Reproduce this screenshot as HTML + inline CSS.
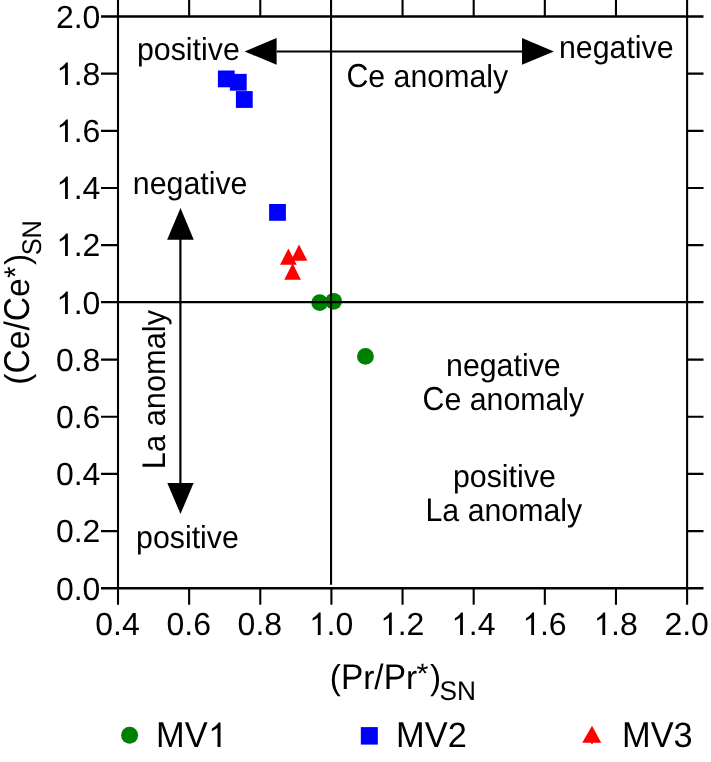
<!DOCTYPE html><html><head><meta charset="utf-8"><title>Ce/Ce* vs Pr/Pr*</title><style>html,body{margin:0;padding:0;background:#fff;}svg{display:block;will-change:transform;}text{font-family:"Liberation Sans",sans-serif;fill:#000;text-rendering:geometricPrecision;}</style></head><body>
<svg width="711" height="762" viewBox="0 0 711 762">
<rect x="0" y="0" width="711" height="762" fill="#fff"/>
<rect x="217.9" y="70.5" width="16.8" height="16.8" fill="#0000ff"/>
<rect x="229.9" y="73.9" width="16.8" height="16.8" fill="#0000ff"/>
<rect x="235.9" y="91.1" width="16.8" height="16.8" fill="#0000ff"/>
<rect x="269.1" y="204" width="16.8" height="16.8" fill="#0000ff"/>
<polygon points="288.4,248.4 296.7,264.8 280.1,264.8" fill="#ff0000"/>
<polygon points="299.05,244.45 307.35,260.85 290.75,260.85" fill="#ff0000"/>
<polygon points="292.6,263.3 300.9,279.7 284.3,279.7" fill="#ff0000"/>
<circle cx="319.7" cy="302.6" r="8.4" fill="#008000"/>
<circle cx="333.65" cy="301.3" r="8.4" fill="#008000"/>
<circle cx="365.45" cy="356.4" r="8.4" fill="#008000"/>
<path d="M101,16.45H703.5M101,588.3H703.5" stroke="#000" stroke-width="2.4" fill="none"/>
<path d="M101,531.115H118M687.1,531.115H703.5M101,473.93H118M687.1,473.93H703.5M101,416.745H118M687.1,416.745H703.5M101,359.56H118M687.1,359.56H703.5M101,245.19H118M687.1,245.19H703.5M101,188.005H118M687.1,188.005H703.5M101,130.82H118M687.1,130.82H703.5M101,73.635H118M687.1,73.635H703.5M101,302.1H703.5" stroke="#000" stroke-width="2.15" fill="none"/>
<path d="M118,0V604.7M687.1,0V604.7M331.05,0V584.7M331.412,588.3V604.7M189.138,0V16.45M189.138,588.3V604.7M260.275,0V16.45M260.275,588.3V604.7M402.55,0V16.45M402.55,588.3V604.7M473.687,0V16.45M473.687,588.3V604.7M544.825,0V16.45M544.825,588.3V604.7M615.963,0V16.45M615.963,588.3V604.7" stroke="#000" stroke-width="2.1" fill="none"/>
<text transform="translate(55.936,600) translate(0,0) scale(1,1)" font-size="32">0</text>
<text transform="translate(55.936,600) translate(17.797,0) scale(1,1)" font-size="32">.</text>
<text transform="translate(55.936,600) translate(26.688,0) scale(1,1)" font-size="32">0</text>
<text transform="translate(55.936,542) translate(0,0) scale(1,1)" font-size="32">0</text>
<text transform="translate(55.936,542) translate(17.797,0) scale(1,1)" font-size="32">.</text>
<text transform="translate(55.936,542) translate(26.688,0) scale(1,1)" font-size="32">2</text>
<text transform="translate(55.936,485) translate(0,0) scale(1,1)" font-size="32">0</text>
<text transform="translate(55.936,485) translate(17.797,0) scale(1,1)" font-size="32">.</text>
<text transform="translate(55.936,485) translate(26.688,0) scale(1,1)" font-size="32">4</text>
<text transform="translate(55.936,428) translate(0,0) scale(1,1)" font-size="32">0</text>
<text transform="translate(55.936,428) translate(17.797,0) scale(1,1)" font-size="32">.</text>
<text transform="translate(55.936,428) translate(26.688,0) scale(1,1)" font-size="32">6</text>
<text transform="translate(55.936,371) translate(0,0) scale(1,1)" font-size="32">0</text>
<text transform="translate(55.936,371) translate(17.797,0) scale(1,1)" font-size="32">.</text>
<text transform="translate(55.936,371) translate(26.688,0) scale(1,1)" font-size="32">8</text>
<path transform="translate(55.936,314) translate(0,0)" d="M11.922,0L9.109,0L9.109,-17.526Q8.094,-16.578 6.438,-15.631Q5,-14.775 3.875,-14.256L3.875,-16.808Q5.938,-17.847 7.609,-19.405Q9.359,-20.964 10.094,-22.4L11.922,-22.4Z" fill="#000"/>
<text transform="translate(55.936,314) translate(17.797,0) scale(1,1)" font-size="32">.</text>
<text transform="translate(55.936,314) translate(26.688,0) scale(1,1)" font-size="32">0</text>
<path transform="translate(55.936,256) translate(0,0)" d="M11.922,0L9.109,0L9.109,-17.526Q8.094,-16.578 6.438,-15.631Q5,-14.775 3.875,-14.256L3.875,-16.808Q5.938,-17.847 7.609,-19.405Q9.359,-20.964 10.094,-22.4L11.922,-22.4Z" fill="#000"/>
<text transform="translate(55.936,256) translate(17.797,0) scale(1,1)" font-size="32">.</text>
<text transform="translate(55.936,256) translate(26.688,0) scale(1,1)" font-size="32">2</text>
<path transform="translate(55.936,199) translate(0,0)" d="M11.922,0L9.109,0L9.109,-17.526Q8.094,-16.578 6.438,-15.631Q5,-14.775 3.875,-14.256L3.875,-16.808Q5.938,-17.847 7.609,-19.405Q9.359,-20.964 10.094,-22.4L11.922,-22.4Z" fill="#000"/>
<text transform="translate(55.936,199) translate(17.797,0) scale(1,1)" font-size="32">.</text>
<text transform="translate(55.936,199) translate(26.688,0) scale(1,1)" font-size="32">4</text>
<path transform="translate(55.936,142) translate(0,0)" d="M11.922,0L9.109,0L9.109,-17.526Q8.094,-16.578 6.438,-15.631Q5,-14.775 3.875,-14.256L3.875,-16.808Q5.938,-17.847 7.609,-19.405Q9.359,-20.964 10.094,-22.4L11.922,-22.4Z" fill="#000"/>
<text transform="translate(55.936,142) translate(17.797,0) scale(1,1)" font-size="32">.</text>
<text transform="translate(55.936,142) translate(26.688,0) scale(1,1)" font-size="32">6</text>
<path transform="translate(55.936,85) translate(0,0)" d="M11.922,0L9.109,0L9.109,-17.526Q8.094,-16.578 6.438,-15.631Q5,-14.775 3.875,-14.256L3.875,-16.808Q5.938,-17.847 7.609,-19.405Q9.359,-20.964 10.094,-22.4L11.922,-22.4Z" fill="#000"/>
<text transform="translate(55.936,85) translate(17.797,0) scale(1,1)" font-size="32">.</text>
<text transform="translate(55.936,85) translate(26.688,0) scale(1,1)" font-size="32">8</text>
<text transform="translate(55.936,28) translate(0,0) scale(1,1)" font-size="32">2</text>
<text transform="translate(55.936,28) translate(17.797,0) scale(1,1)" font-size="32">.</text>
<text transform="translate(55.936,28) translate(26.688,0) scale(1,1)" font-size="32">0</text>
<text transform="translate(95.308,635) translate(0,0) scale(1,1)" font-size="32">0</text>
<text transform="translate(95.308,635) translate(17.797,0) scale(1,1)" font-size="32">.</text>
<text transform="translate(95.308,635) translate(26.688,0) scale(1,1)" font-size="32">4</text>
<text transform="translate(166.445,635) translate(0,0) scale(1,1)" font-size="32">0</text>
<text transform="translate(166.445,635) translate(17.797,0) scale(1,1)" font-size="32">.</text>
<text transform="translate(166.445,635) translate(26.688,0) scale(1,1)" font-size="32">6</text>
<text transform="translate(237.583,635) translate(0,0) scale(1,1)" font-size="32">0</text>
<text transform="translate(237.583,635) translate(17.797,0) scale(1,1)" font-size="32">.</text>
<text transform="translate(237.583,635) translate(26.688,0) scale(1,1)" font-size="32">8</text>
<path transform="translate(308.72,635) translate(0,0)" d="M11.922,0L9.109,0L9.109,-17.526Q8.094,-16.578 6.438,-15.631Q5,-14.775 3.875,-14.256L3.875,-16.808Q5.938,-17.847 7.609,-19.405Q9.359,-20.964 10.094,-22.4L11.922,-22.4Z" fill="#000"/>
<text transform="translate(308.72,635) translate(17.797,0) scale(1,1)" font-size="32">.</text>
<text transform="translate(308.72,635) translate(26.688,0) scale(1,1)" font-size="32">0</text>
<path transform="translate(379.858,635) translate(0,0)" d="M11.922,0L9.109,0L9.109,-17.526Q8.094,-16.578 6.438,-15.631Q5,-14.775 3.875,-14.256L3.875,-16.808Q5.938,-17.847 7.609,-19.405Q9.359,-20.964 10.094,-22.4L11.922,-22.4Z" fill="#000"/>
<text transform="translate(379.858,635) translate(17.797,0) scale(1,1)" font-size="32">.</text>
<text transform="translate(379.858,635) translate(26.688,0) scale(1,1)" font-size="32">2</text>
<path transform="translate(450.995,635) translate(0,0)" d="M11.922,0L9.109,0L9.109,-17.526Q8.094,-16.578 6.438,-15.631Q5,-14.775 3.875,-14.256L3.875,-16.808Q5.938,-17.847 7.609,-19.405Q9.359,-20.964 10.094,-22.4L11.922,-22.4Z" fill="#000"/>
<text transform="translate(450.995,635) translate(17.797,0) scale(1,1)" font-size="32">.</text>
<text transform="translate(450.995,635) translate(26.688,0) scale(1,1)" font-size="32">4</text>
<path transform="translate(522.133,635) translate(0,0)" d="M11.922,0L9.109,0L9.109,-17.526Q8.094,-16.578 6.438,-15.631Q5,-14.775 3.875,-14.256L3.875,-16.808Q5.938,-17.847 7.609,-19.405Q9.359,-20.964 10.094,-22.4L11.922,-22.4Z" fill="#000"/>
<text transform="translate(522.133,635) translate(17.797,0) scale(1,1)" font-size="32">.</text>
<text transform="translate(522.133,635) translate(26.688,0) scale(1,1)" font-size="32">6</text>
<path transform="translate(593.27,635) translate(0,0)" d="M11.922,0L9.109,0L9.109,-17.526Q8.094,-16.578 6.438,-15.631Q5,-14.775 3.875,-14.256L3.875,-16.808Q5.938,-17.847 7.609,-19.405Q9.359,-20.964 10.094,-22.4L11.922,-22.4Z" fill="#000"/>
<text transform="translate(593.27,635) translate(17.797,0) scale(1,1)" font-size="32">.</text>
<text transform="translate(593.27,635) translate(26.688,0) scale(1,1)" font-size="32">8</text>
<text transform="translate(664.408,635) translate(0,0) scale(1,1)" font-size="32">2</text>
<text transform="translate(664.408,635) translate(17.797,0) scale(1,1)" font-size="32">.</text>
<text transform="translate(664.408,635) translate(26.688,0) scale(1,1)" font-size="32">0</text>
<text transform="translate(329.84,689) translate(0,0) scale(1,1.03)" font-size="33.4">(</text>
<text transform="translate(329.84,689) translate(11.122,0) scale(1,1.07)" font-size="33.4">P</text>
<text transform="translate(329.84,689) translate(33.4,0) scale(1,1.013)" font-size="33.4">r</text>
<text transform="translate(329.84,689) translate(44.522,0) scale(1,1.056)" font-size="33.4">/</text>
<text transform="translate(329.84,689) translate(53.802,0) scale(1,1.07)" font-size="33.4">P</text>
<text transform="translate(329.84,689) translate(76.08,0) scale(1,1.013)" font-size="33.4">r</text>
<text transform="translate(329.84,689) translate(86.692,-5.55) scale(0.921,0.84)" font-size="33.4">*</text>
<text transform="translate(329.84,689) translate(100.2,0) scale(1,1.03)" font-size="33.4">)</text>
<text transform="translate(439.54,700) translate(0,0) scale(1.01,1.04)" font-size="26">S</text>
<text transform="translate(439.54,700) translate(17.515,0) scale(1.01,1.04)" font-size="26">N</text>
<text transform="translate(29.4,384.67) rotate(-90) translate(0,0) scale(1.007,1.03)" font-size="33.4">(</text>
<text transform="translate(29.4,384.67) rotate(-90) translate(11.196,0) scale(1.007,1.074)" font-size="33.4">C</text>
<text transform="translate(29.4,384.67) rotate(-90) translate(35.475,0) scale(1.007,1.02)" font-size="33.4">e</text>
<text transform="translate(29.4,384.67) rotate(-90) translate(54.174,0) scale(1.007,1.056)" font-size="33.4">/</text>
<text transform="translate(29.4,384.67) rotate(-90) translate(63.514,0) scale(1.007,1.074)" font-size="33.4">C</text>
<text transform="translate(29.4,384.67) rotate(-90) translate(87.794,0) scale(1.007,1.02)" font-size="33.4">e</text>
<text transform="translate(29.4,384.67) rotate(-90) translate(106.582,-3.84) scale(0.892,0.938)" font-size="33.4">*</text>
<text transform="translate(29.4,384.67) rotate(-90) translate(119.576,0) scale(1.007,1.03)" font-size="33.4">)</text>
<text transform="translate(41.2,255.32) rotate(-90) translate(0,0) scale(0.976,1.04)" font-size="26">S</text>
<text transform="translate(41.2,255.32) rotate(-90) translate(16.926,0) scale(0.976,1.04)" font-size="26">N</text>
<path d="M276.6,51.5H522" stroke="#000" stroke-width="1.9" fill="none"/>
<polygon points="244.64,51.45 276.6,38.02 276.6,64.75" fill="#000"/>
<polygon points="553.9,51.45 522,38.02 522,64.75" fill="#000"/>
<path d="M180.4,239H180.4V483.5" stroke="#000" stroke-width="2.2" fill="none"/>
<polygon points="180.5,208.07 193.76,239.66 167.13,239.66" fill="#000"/>
<polygon points="180.5,514 193.6,482.9 167.3,482.9" fill="#000"/>
<text transform="translate(137.01,60) translate(0,0) scale(1,1.045)" font-size="30.3">p</text>
<text transform="translate(137.01,60) translate(16.851,0) scale(1,1.045)" font-size="30.3">o</text>
<text transform="translate(137.01,60) translate(33.703,0) scale(1,1.045)" font-size="30.3">s</text>
<text transform="translate(137.01,60) translate(48.853,0) scale(1,1.045)" font-size="30.3">i</text>
<text transform="translate(137.01,60) translate(55.585,0) scale(1,1.045)" font-size="30.3">t</text>
<text transform="translate(137.01,60) translate(64.003,0) scale(1,1.045)" font-size="30.3">i</text>
<text transform="translate(137.01,60) translate(70.735,0) scale(1,1.045)" font-size="30.3">v</text>
<text transform="translate(137.01,60) translate(85.885,0) scale(1,1.045)" font-size="30.3">e</text>
<text transform="translate(558.97,58) translate(0,0) scale(1,1.045)" font-size="30.3">n</text>
<text transform="translate(558.97,58) translate(16.851,0) scale(1,1.045)" font-size="30.3">e</text>
<text transform="translate(558.97,58) translate(33.703,0) scale(1,1.045)" font-size="30.3">g</text>
<text transform="translate(558.97,58) translate(50.554,0) scale(1,1.045)" font-size="30.3">a</text>
<text transform="translate(558.97,58) translate(67.406,0) scale(1,1.045)" font-size="30.3">t</text>
<text transform="translate(558.97,58) translate(75.824,0) scale(1,1.045)" font-size="30.3">i</text>
<text transform="translate(558.97,58) translate(82.556,0) scale(1,1.045)" font-size="30.3">v</text>
<text transform="translate(558.97,58) translate(97.706,0) scale(1,1.045)" font-size="30.3">e</text>
<text transform="translate(346.44,87) translate(0,0) scale(1,1.095)" font-size="30.3">C</text>
<text transform="translate(346.44,87) translate(21.882,0) scale(1,1.045)" font-size="30.3">e</text>
<text transform="translate(346.44,87) translate(47.151,0) scale(1,1.045)" font-size="30.3">a</text>
<text transform="translate(346.44,87) translate(64.003,0) scale(1,1.045)" font-size="30.3">n</text>
<text transform="translate(346.44,87) translate(80.854,0) scale(1,1.045)" font-size="30.3">o</text>
<text transform="translate(346.44,87) translate(97.706,0) scale(1,1.045)" font-size="30.3">m</text>
<text transform="translate(346.44,87) translate(122.946,0) scale(1,1.045)" font-size="30.3">a</text>
<text transform="translate(346.44,87) translate(139.797,0) scale(1,1.045)" font-size="30.3">l</text>
<text transform="translate(346.44,87) translate(146.529,0) scale(1,1.045)" font-size="30.3">y</text>
<text transform="translate(132.87,194) translate(0,0) scale(1,1.045)" font-size="30.3">n</text>
<text transform="translate(132.87,194) translate(16.851,0) scale(1,1.045)" font-size="30.3">e</text>
<text transform="translate(132.87,194) translate(33.703,0) scale(1,1.045)" font-size="30.3">g</text>
<text transform="translate(132.87,194) translate(50.554,0) scale(1,1.045)" font-size="30.3">a</text>
<text transform="translate(132.87,194) translate(67.406,0) scale(1,1.045)" font-size="30.3">t</text>
<text transform="translate(132.87,194) translate(75.824,0) scale(1,1.045)" font-size="30.3">i</text>
<text transform="translate(132.87,194) translate(82.556,0) scale(1,1.045)" font-size="30.3">v</text>
<text transform="translate(132.87,194) translate(97.706,0) scale(1,1.045)" font-size="30.3">e</text>
<text transform="translate(136.11,548) translate(0,0) scale(1,1.045)" font-size="30.3">p</text>
<text transform="translate(136.11,548) translate(16.851,0) scale(1,1.045)" font-size="30.3">o</text>
<text transform="translate(136.11,548) translate(33.703,0) scale(1,1.045)" font-size="30.3">s</text>
<text transform="translate(136.11,548) translate(48.853,0) scale(1,1.045)" font-size="30.3">i</text>
<text transform="translate(136.11,548) translate(55.585,0) scale(1,1.045)" font-size="30.3">t</text>
<text transform="translate(136.11,548) translate(64.003,0) scale(1,1.045)" font-size="30.3">i</text>
<text transform="translate(136.11,548) translate(70.735,0) scale(1,1.045)" font-size="30.3">v</text>
<text transform="translate(136.11,548) translate(85.885,0) scale(1,1.045)" font-size="30.3">e</text>
<text transform="translate(446.07,376) translate(0,0) scale(1,1.045)" font-size="30.3">n</text>
<text transform="translate(446.07,376) translate(16.851,0) scale(1,1.045)" font-size="30.3">e</text>
<text transform="translate(446.07,376) translate(33.703,0) scale(1,1.045)" font-size="30.3">g</text>
<text transform="translate(446.07,376) translate(50.554,0) scale(1,1.045)" font-size="30.3">a</text>
<text transform="translate(446.07,376) translate(67.406,0) scale(1,1.045)" font-size="30.3">t</text>
<text transform="translate(446.07,376) translate(75.824,0) scale(1,1.045)" font-size="30.3">i</text>
<text transform="translate(446.07,376) translate(82.556,0) scale(1,1.045)" font-size="30.3">v</text>
<text transform="translate(446.07,376) translate(97.706,0) scale(1,1.045)" font-size="30.3">e</text>
<text transform="translate(422.54,410) translate(0,0) scale(1,1.095)" font-size="30.3">C</text>
<text transform="translate(422.54,410) translate(21.882,0) scale(1,1.045)" font-size="30.3">e</text>
<text transform="translate(422.54,410) translate(47.151,0) scale(1,1.045)" font-size="30.3">a</text>
<text transform="translate(422.54,410) translate(64.003,0) scale(1,1.045)" font-size="30.3">n</text>
<text transform="translate(422.54,410) translate(80.854,0) scale(1,1.045)" font-size="30.3">o</text>
<text transform="translate(422.54,410) translate(97.706,0) scale(1,1.045)" font-size="30.3">m</text>
<text transform="translate(422.54,410) translate(122.946,0) scale(1,1.045)" font-size="30.3">a</text>
<text transform="translate(422.54,410) translate(139.797,0) scale(1,1.045)" font-size="30.3">l</text>
<text transform="translate(422.54,410) translate(146.529,0) scale(1,1.045)" font-size="30.3">y</text>
<text transform="translate(453.01,487) translate(0,0) scale(1,1.045)" font-size="30.3">p</text>
<text transform="translate(453.01,487) translate(16.851,0) scale(1,1.045)" font-size="30.3">o</text>
<text transform="translate(453.01,487) translate(33.703,0) scale(1,1.045)" font-size="30.3">s</text>
<text transform="translate(453.01,487) translate(48.853,0) scale(1,1.045)" font-size="30.3">i</text>
<text transform="translate(453.01,487) translate(55.585,0) scale(1,1.045)" font-size="30.3">t</text>
<text transform="translate(453.01,487) translate(64.003,0) scale(1,1.045)" font-size="30.3">i</text>
<text transform="translate(453.01,487) translate(70.735,0) scale(1,1.045)" font-size="30.3">v</text>
<text transform="translate(453.01,487) translate(85.885,0) scale(1,1.045)" font-size="30.3">e</text>
<text transform="translate(425.51,521) translate(0,0) scale(1,1.08)" font-size="30.3">L</text>
<text transform="translate(425.51,521) translate(16.851,0) scale(1,1.045)" font-size="30.3">a</text>
<text transform="translate(425.51,521) translate(42.121,0) scale(1,1.045)" font-size="30.3">a</text>
<text transform="translate(425.51,521) translate(58.973,0) scale(1,1.045)" font-size="30.3">n</text>
<text transform="translate(425.51,521) translate(75.824,0) scale(1,1.045)" font-size="30.3">o</text>
<text transform="translate(425.51,521) translate(92.675,0) scale(1,1.045)" font-size="30.3">m</text>
<text transform="translate(425.51,521) translate(117.916,0) scale(1,1.045)" font-size="30.3">a</text>
<text transform="translate(425.51,521) translate(134.767,0) scale(1,1.045)" font-size="30.3">l</text>
<text transform="translate(425.51,521) translate(141.499,0) scale(1,1.045)" font-size="30.3">y</text>
<text transform="translate(165,469.13) rotate(-90) translate(0,0) scale(1.016,1.08)" font-size="30.3">L</text>
<text transform="translate(165,469.13) rotate(-90) translate(17.121,0) scale(1.016,1.045)" font-size="30.3">a</text>
<text transform="translate(165,469.13) rotate(-90) translate(42.795,0) scale(1.016,1.045)" font-size="30.3">a</text>
<text transform="translate(165,469.13) rotate(-90) translate(59.916,0) scale(1.016,1.045)" font-size="30.3">n</text>
<text transform="translate(165,469.13) rotate(-90) translate(77.037,0) scale(1.016,1.045)" font-size="30.3">o</text>
<text transform="translate(165,469.13) rotate(-90) translate(94.158,0) scale(1.016,1.045)" font-size="30.3">m</text>
<text transform="translate(165,469.13) rotate(-90) translate(119.802,0) scale(1.016,1.045)" font-size="30.3">a</text>
<text transform="translate(165,469.13) rotate(-90) translate(136.923,0) scale(1.016,1.045)" font-size="30.3">l</text>
<text transform="translate(165,469.13) rotate(-90) translate(143.763,0) scale(1.016,1.045)" font-size="30.3">y</text>
<circle cx="129.6" cy="735.2" r="8.5" fill="#008000"/>
<rect x="360.83" y="727.1" width="17" height="17.5" fill="#0000ff"/>
<polygon points="592,725.65 601.24,742.66 582.25,742.66" fill="#ff0000"/>
<rect x="591.1" y="742" width="1.8" height="1.8" fill="#ff0000"/>
<text transform="translate(156.1,747) translate(0,0) scale(1,1.048)" font-size="34.4">M</text>
<text transform="translate(156.1,747) translate(28.655,0) scale(1,1.048)" font-size="34.4">V</text>
<path transform="translate(156.1,747) translate(51.6,0)" d="M12.816,0L9.793,0L9.793,-19.247Q8.701,-18.207 6.92,-17.166Q5.375,-16.227 4.166,-15.656L4.166,-18.458Q6.383,-19.599 8.18,-21.311Q10.061,-23.023 10.851,-24.6L12.816,-24.6Z" fill="#000"/>
<text transform="translate(396.1,747) translate(0,0) scale(1,1.048)" font-size="34.4">M</text>
<text transform="translate(396.1,747) translate(28.655,0) scale(1,1.048)" font-size="34.4">V</text>
<text transform="translate(396.1,747) translate(51.6,0) scale(1,1.02)" font-size="34.4">2</text>
<text transform="translate(622,747) translate(0,0) scale(1,1.048)" font-size="34.4">M</text>
<text transform="translate(622,747) translate(28.655,0) scale(1,1.048)" font-size="34.4">V</text>
<text transform="translate(622,747) translate(51.6,0) scale(1,1.02)" font-size="34.4">3</text>
</svg></body></html>
